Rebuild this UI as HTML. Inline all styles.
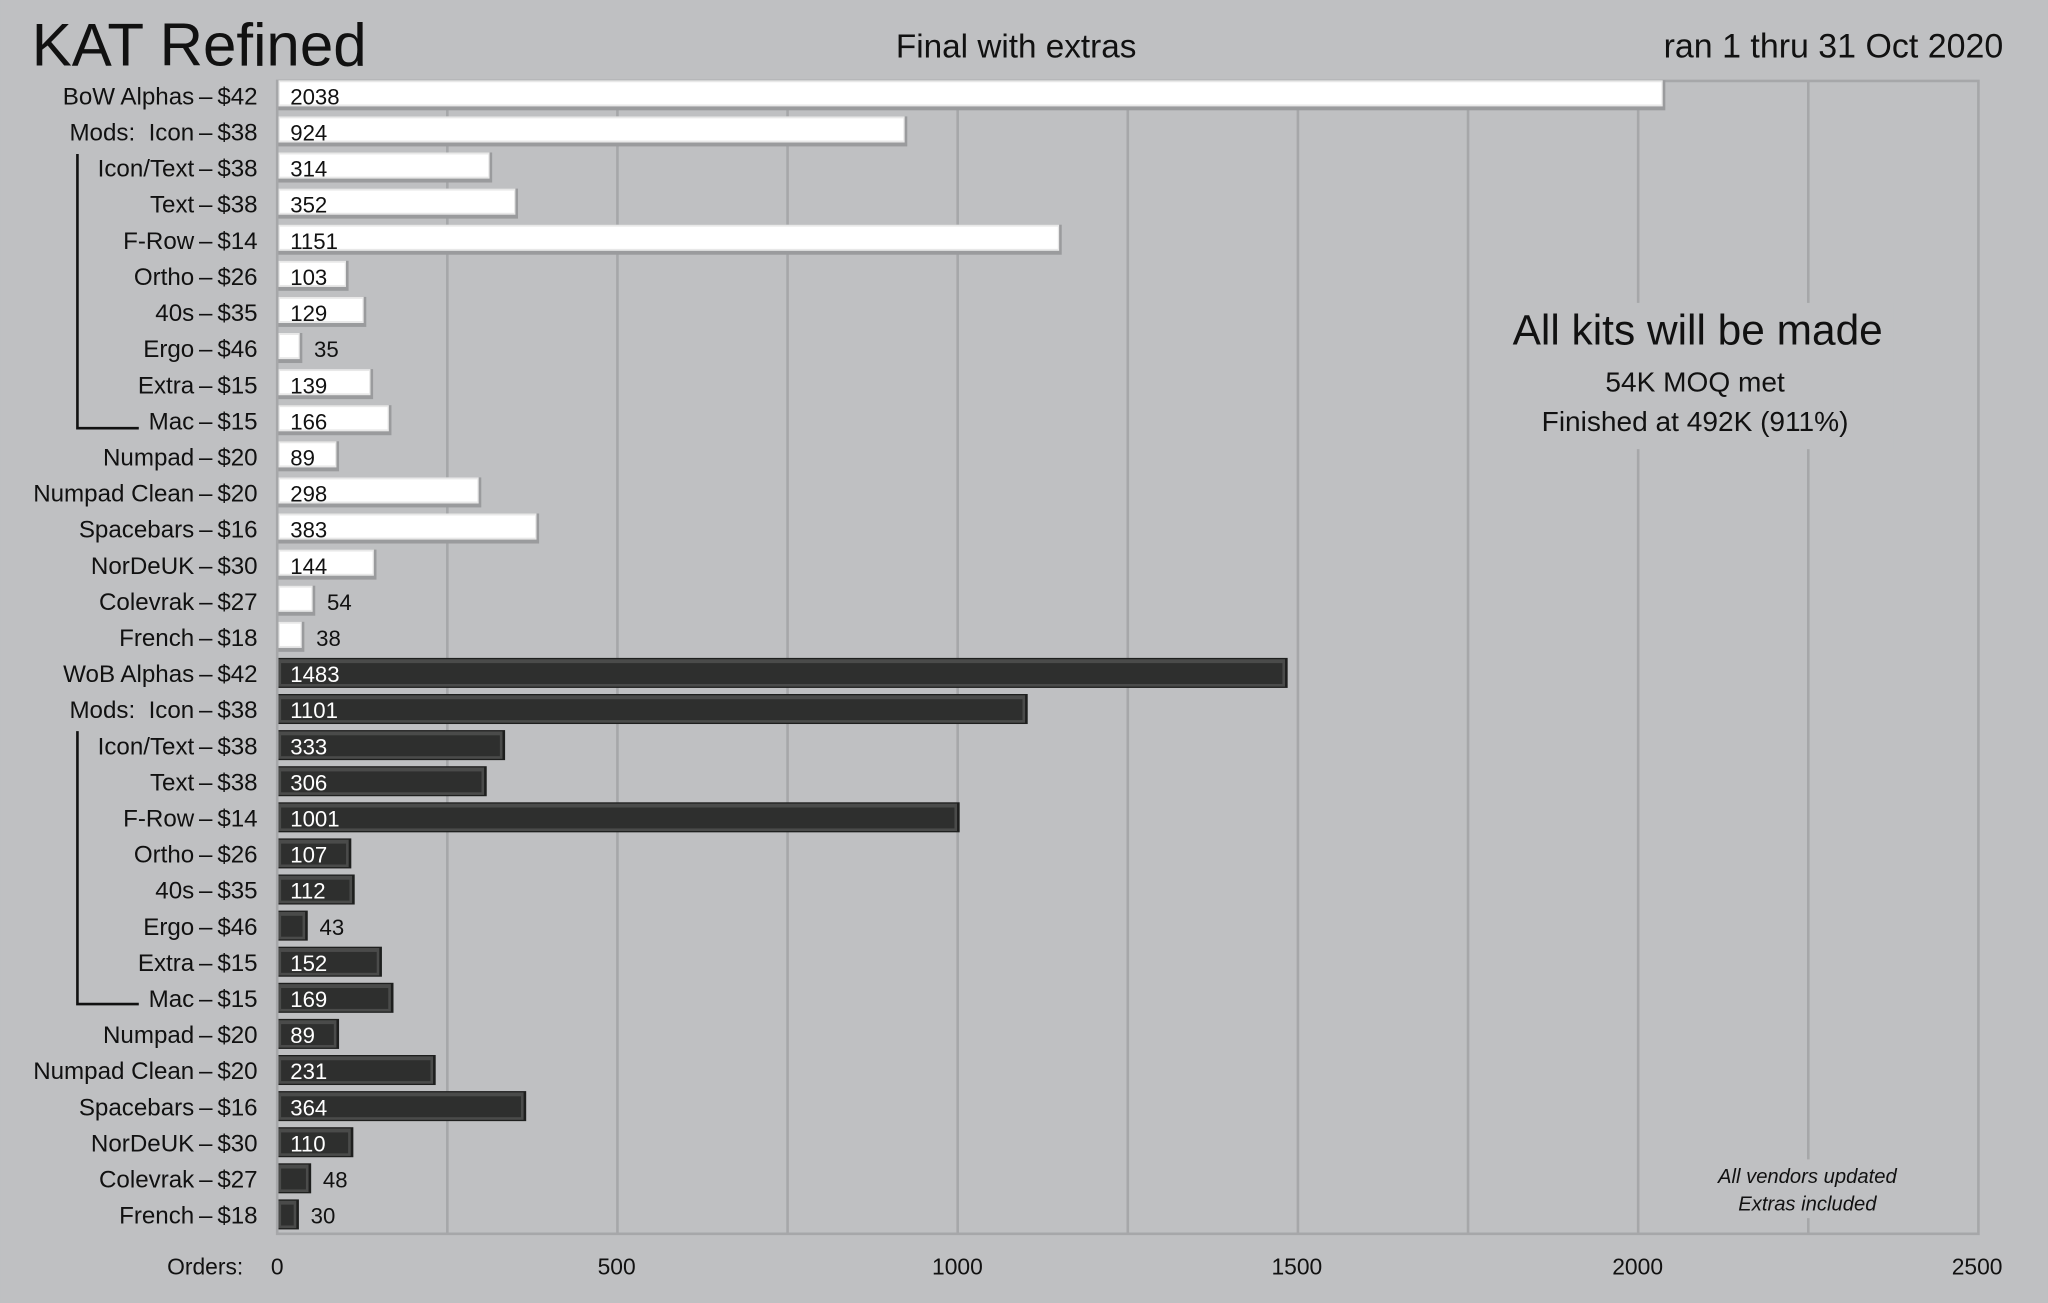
<!DOCTYPE html>
<html><head><meta charset="utf-8"><style>
html,body{margin:0;padding:0;background:#bfc0c2;}
svg{display:block;}
text{font-family:"Liberation Sans",sans-serif;fill:#111;}
</style></head><body>
<svg width="2048" height="1303" viewBox="0 0 1568 998" xmlns="http://www.w3.org/2000/svg">
<rect width="1568" height="998" fill="#bfc0c2"/>
<text x="24" y="50" font-size="46">KAT Refined</text>
<text x="778" y="44" font-size="25.5" text-anchor="middle">Final with extras</text>
<text x="1534" y="44" font-size="26" text-anchor="end">ran 1 thru 31 Oct 2020</text>
<g id="grid" stroke="#a6a7a9" stroke-width="2"></g>
<rect x="212" y="62" width="1303" height="883" fill="none" stroke="#a6a7a9" stroke-width="2"/>
<rect id="c1" x="1150" y="232" width="300" height="112" fill="#bfc0c2"/>
<rect id="c2" x="1300" y="888" width="170" height="45" fill="#bfc0c2"/>
<g id="bars"></g>
<g id="labels"></g>
<path d="M59 118 V328 H106 M59 560 V769 H106" stroke="#111" stroke-width="2" fill="none"/>
<text x="1300" y="264" font-size="32.5" text-anchor="middle">All kits will be made</text>
<text x="1298" y="300" font-size="21.5" text-anchor="middle">54K MOQ met</text>
<text x="1298" y="330" font-size="21.5" text-anchor="middle">Finished at 492K (911%)</text>
<text x="1384" y="906" font-size="15.5" font-style="italic" text-anchor="middle">All vendors updated</text>
<text x="1384" y="927" font-size="15.5" font-style="italic" text-anchor="middle">Extras included</text>
<text x="186" y="976" font-size="17.5" text-anchor="end">Orders:</text>
<text x="212" y="976" font-size="17.5" text-anchor="middle">0</text>
<text x="472" y="976" font-size="17.5" text-anchor="middle">500</text>
<text x="733" y="976" font-size="17.5" text-anchor="middle">1000</text>
<text x="993" y="976" font-size="17.5" text-anchor="middle">1500</text>
<text x="1254" y="976" font-size="17.5" text-anchor="middle">2000</text>
<text x="1514" y="976" font-size="17.5" text-anchor="middle">2500</text>
</svg>
<script>
var ns="http://www.w3.org/2000/svg";
function el(p,t,a,txt){var e=document.createElementNS(ns,t);for(var k in a)e.setAttribute(k,a[k]);if(txt!=null)e.textContent=txt;p.appendChild(e);return e;}
var g=document.getElementById('grid');
for(var v=250;v<2500;v+=250){var x=212+v*0.5212;el(g,'line',{x1:x,y1:62,x2:x,y2:945});}
var names=["BoW Alphas","Mods:\u00a0 Icon","Icon/Text","Text","F-Row","Ortho","40s","Ergo","Extra","Mac","Numpad","Numpad Clean","Spacebars","NorDeUK","Colevrak","French"];
var names2=["WoB Alphas"].concat(names.slice(1));
var prices=["$42","$38","$38","$38","$14","$26","$35","$46","$15","$15","$20","$20","$16","$30","$27","$18"];
var v1=[2038,924,314,352,1151,103,129,35,139,166,89,298,383,144,54,38];
var v2=[1483,1101,333,306,1001,107,112,43,152,169,89,231,364,110,48,30];
var bars=document.getElementById('bars'),labs=document.getElementById('labels');
for(var i=0;i<32;i++){
 var dark=i>=16,j=i%16,val=dark?v2[j]:v1[j],nm=dark?names2[j]:names[j];
 var cy=73+i*27.65,w=val*0.5212,y=cy-11.5,h=23;
 if(!dark){
  el(bars,'rect',{x:213,y:y,width:w,height:h,fill:'#9a9b9d'});
  el(bars,'rect',{x:213,y:y,width:w-2,height:h-3,fill:'#e8e8e8'});
  el(bars,'rect',{x:214,y:y+1.5,width:w-4,height:h-6,fill:'#ffffff'});
 }else{
  el(bars,'rect',{x:213,y:y,width:w,height:h,fill:'#1e1f1e'});
  el(bars,'rect',{x:213,y:y+1,width:w-2,height:h-2,fill:'#4a4b4a'});
  el(bars,'rect',{x:215,y:y+4,width:w-6,height:h-7,fill:'#2e2f2e'});
 }
 var inside=val>80;
 el(bars,'text',{x:inside?222:213+w+9,y:cy+7,'font-size':17,style:(dark&&inside)?'fill:#fff':''},String(val));
 el(labs,'text',{x:197,y:cy+7,'font-size':18.5,'text-anchor':'end'},nm+"\u2009\u2013\u2009"+prices[j]);
}
</script>
</body></html>
